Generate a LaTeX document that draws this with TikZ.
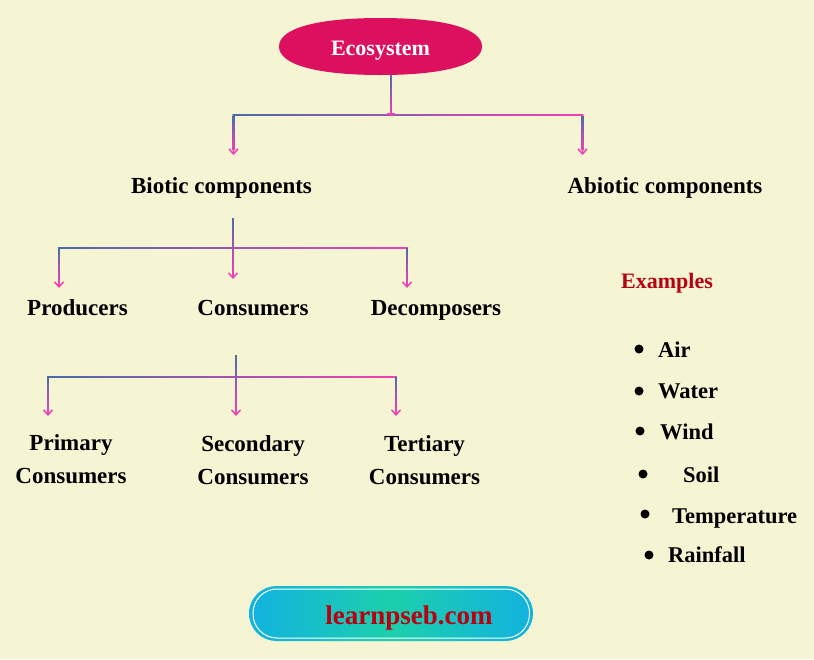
\documentclass[tikz,border=0pt]{standalone}
\usepackage{fontspec}
\setmainfont{Liberation Serif}
\usetikzlibrary{arrows.meta,calc,shapes.geometric}
\definecolor{pagebg}{HTML}{F5F4D3}
\definecolor{ecocol}{HTML}{DD0F5F}
\definecolor{lineblue}{HTML}{4A6DA8}
\definecolor{linepink}{HTML}{F23FB5}
\definecolor{exred}{HTML}{B80010}
\definecolor{pillblue}{HTML}{12B2E0}
\definecolor{pillgreen}{HTML}{1CCFAC}
\tikzset{
  txt/.style={font=\bfseries\fontsize{23}{33}\selectfont,text=black,inner sep=0pt,align=center,anchor=base},
  listtxt/.style={font=\bfseries\fontsize{22.5}{26}\selectfont,text=black,inner sep=0pt,anchor=base west},
  bulletdot/.style={circle,fill=black,inner sep=0pt,minimum size=9pt},
  conn/.style={draw=linepink,line width=1.6pt,-{Straight Barb[length=5pt,width=9pt,line width=1.5pt]}},
  plainconn/.style={draw=linepink,line width=1.6pt},
  vgrad/.style={top color=lineblue,bottom color=linepink,draw=none},
  hgrad/.style={left color=lineblue,right color=linepink,draw=none}
}
\newcommand{\vshade}[3][0]{\shade[vgrad] ($(#2)+(-.8,0)$) rectangle ($(#3)+(.8,-#1)$);}
\newcommand{\hshade}[2]{\shade[hgrad] ($(#1)+(-.8,-.8)$) rectangle ($(#2)+(.8,.8)$);}
\begin{document}
\begin{tikzpicture}[x=1pt,y=-1pt]
\useasboundingbox (0,0) rectangle (814,659);
\fill[pagebg] (0,0) rectangle (814,659);
% root
\fill[ecocol] (279,46.5) .. controls (279,28) and (318,18) .. (380.5,18)
  .. controls (443,18) and (482,28) .. (482,46.5)
  .. controls (482,65) and (443,75) .. (380.5,75)
  .. controls (318,75) and (279,65) .. (279,46.5) -- cycle;
\node[txt,text=white,font=\bfseries\fontsize{22}{26}\selectfont] (eco) at (380.5,55) {Ecosystem};
% labels
\node[txt] (biotic) at (221.5,193) {Biotic components};
\node[txt] (abiotic) at (665,193) {Abiotic components};
\node[txt] (prod) at (77.5,315) {Producers};
\node[txt] (cons) at (253,315) {Consumers};
\node[txt] (decomp) at (436,315) {Decomposers};
\node[txt] (prim) at (71,483) {Primary\hspace{6pt}\\Consumers};
\node[txt] (sec) at (253,484) {Secondary\hspace{6pt}\\Consumers};
\node[txt] (ter) at (424.5,484) {Tertiary\hspace{6pt}\\Consumers};
\node[txt,text=exred,font=\bfseries\fontsize{22}{26}\selectfont] (ex) at (667,288) {Examples};
\node[listtxt] (air) at (658,357) {Air};
\node[listtxt] (water) at (658,398) {Water};
\node[listtxt] (wind) at (660,439) {Wind};
\node[listtxt] (soil) at (683,482) {Soil};
\node[listtxt] (temp) at (672,523) {Temperature};
\node[listtxt] (rain) at (668,562) {Rainfall};
\node[bulletdot] (b1) at (639,349) {};
\node[bulletdot] (b2) at (639,391) {};
\node[bulletdot] (b3) at (640,431) {};
\node[bulletdot] (b4) at (643,474) {};
\node[bulletdot] (b5) at (645,514) {};
\node[bulletdot] (b6) at (649,555) {};
% junctions
\coordinate (t0) at (391,75);
\coordinate (j0) at (391,115);
\coordinate (l0) at (233.5,115);
\coordinate (r0) at (582.5,115);
\coordinate (al0) at (233.5,155);
\coordinate (ar0) at (582.5,155);
\coordinate (t1) at (233,218);
\coordinate (l1) at (59,248);
\coordinate (r1) at (407,248);
\coordinate (al1) at (59,288);
\coordinate (am1) at (233,279);
\coordinate (ar1) at (407,288);
\coordinate (t2) at (236,355);
\coordinate (l2) at (48,377);
\coordinate (r2) at (396,377);
\coordinate (al2) at (48,416);
\coordinate (am2) at (236,416);
\coordinate (ar2) at (396,416);
% tree 1
\draw[conn] (l0) -- (al0);
\draw[conn] (r0) -- (ar0);
\draw[plainconn] (t0) -- (j0);
\draw[plainconn] (l0) -- (r0);
\vshade[5]{l0}{al0}
\vshade[5]{r0}{ar0}
\hshade{l0}{r0}
\vshade{t0}{j0}
\fill[linepink] (387,112.5) rectangle (395,115);
% tree 2
\draw[conn] (l1) -- (al1);
\draw[conn] (r1) -- (ar1);
\draw[conn] (t1) -- (am1);
\draw[plainconn] (l1) -- (r1);
\hshade{l1}{r1}
\vshade[5]{l1}{al1}
\vshade[5]{r1}{ar1}
\vshade[5]{t1}{am1}
% tree 3
\draw[conn] (l2) -- (al2);
\draw[conn] (r2) -- (ar2);
\draw[conn] (t2) -- (am2);
\draw[plainconn] (l2) -- (r2);
\hshade{l2}{r2}
\vshade[5]{l2}{al2}
\vshade[5]{r2}{ar2}
\vshade[5]{t2}{am2}
% pill
\shade[left color=pillblue,right color=pillblue,middle color=pillgreen,rounded corners=27.5pt] (249,586) rectangle (533,641);
\draw[white,line width=1pt,rounded corners=24pt] (253,589) rectangle (529.5,638);
\node[inner sep=0pt,text=exred,anchor=base,font=\bfseries\fontsize{27}{32}\selectfont] (site) at (409,624) {learnpseb.com};
\end{tikzpicture}
\end{document}
